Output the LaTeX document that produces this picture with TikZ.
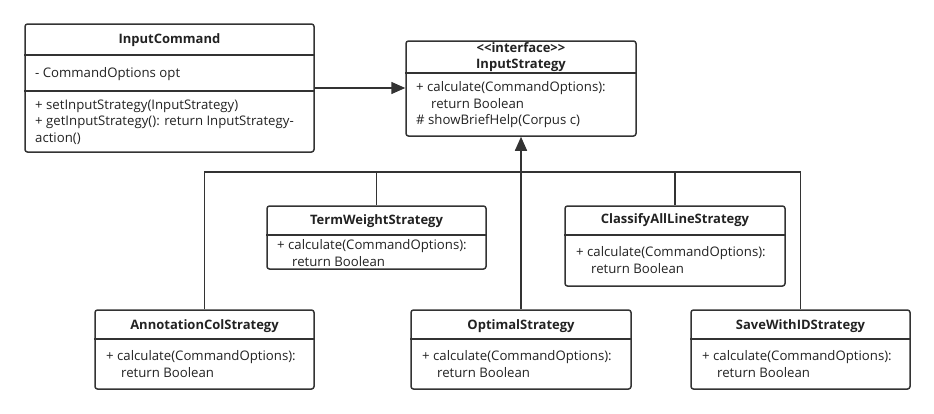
\documentclass[tikz,border=0pt]{standalone}
\usepackage{fontspec}
\setmainfont{Open Sans}
\usetikzlibrary{arrows.meta}
\definecolor{linegray}{HTML}{333333}
\definecolor{inkgray}{HTML}{222222}

\begin{document}
\begin{tikzpicture}
      [
        x=1pt, y=-1pt,
        class/.style={draw=linegray, line width=1.5pt, rounded corners=2.5pt, inner sep=0pt},
        title/.style={font=\fontsize{13}{16}\selectfont\bfseries, text=inkgray, inner sep=0pt, align=center},
        member/.style={font=\fontsize{13.2}{16.5}\selectfont, text=inkgray, inner sep=0pt, align=left, anchor=west},
        sep/.style={draw=linegray, line width=1.5pt},
        link/.style={draw=linegray, line width=1.5pt},
        >={Triangle[length=14pt,width=12pt]}
      ]
      \useasboundingbox (0,0) rectangle (934,413);
      % context class
      \node [class, minimum width=289, minimum height=128] (cmd) at (169.5,88) {};
      \draw [sep] (cmd.west |- 0,55) -- (cmd.east |- 0,55);
      \draw [sep] (cmd.west |- 0,91) -- (cmd.east |- 0,91);
      \node [title] (cmdname) at (cmd.north |- 0,40) {InputCommand};
      \node [member] (cmdattr) at (35,74) {- CommandOptions opt};
      \node [member] (cmdops) at (35,122) {+ setInputStrategy(InputStrategy)\\+ getInputStrategy(): return InputStrategy-\\action()};
      % interface
      \node [class, minimum width=230, minimum height=95] (strat) at (521,88.5) {};
      \draw [sep] (strat.west |- 0,73) -- (strat.east |- 0,73);
      \node [title] (stratname) at (strat.north |- 0,57) {{<}{<}interface{>}{>}\\InputStrategy};
      \node [member] (stratops) at (416,105) {+ calculate(CommandOptions):\\\hspace*{15pt}return Boolean\\\# showBriefHelp(Corpus c)};
      % upper strategies
      \node [class, minimum width=219, minimum height=63] (term) at (376.5,237.5) {};
      \draw [sep] (term.west |- 0,235) -- (term.east |- 0,235);
      \node [title] (termname) at (term.north |- 0,221) {TermWeightStrategy};
      \node [member] (termops) at (277,253) {+ calculate(CommandOptions):\\\hspace*{15pt}return Boolean};
      \node [class, minimum width=220, minimum height=80] (cls) at (675,246) {};
      \draw [sep] (cls.west |- 0,235) -- (cls.east |- 0,235);
      \node [title] (clsname) at (cls.north |- 0,220) {ClassifyAllLineStrategy};
      \node [member] (clsops) at (576,260) {+ calculate(CommandOptions):\\\hspace*{15pt}return Boolean};
      % lower strategies
      \node [class, minimum width=219, minimum height=79] (ann) at (204.5,349.5) {};
      \draw [sep] (ann.west |- 0,339) -- (ann.east |- 0,339);
      \node [title] (annname) at (ann.north |- 0,326) {AnnotationColStrategy};
      \node [member] (annops) at (106,364) {+ calculate(CommandOptions):\\\hspace*{15pt}return Boolean};
      \node [class, minimum width=220, minimum height=79] (opt) at (521,349.5) {};
      \draw [sep] (opt.west |- 0,339) -- (opt.east |- 0,339);
      \node [title] (optname) at (opt.north |- 0,326) {OptimalStrategy};
      \node [member] (optops) at (422,364) {+ calculate(CommandOptions):\\\hspace*{15pt}return Boolean};
      \node [class, minimum width=219, minimum height=79] (save) at (800.5,349.5) {};
      \draw [sep] (save.west |- 0,339) -- (save.east |- 0,339);
      \node [title] (savename) at (save.north |- 0,326) {SaveWithIDStrategy};
      \node [member] (saveops) at (702,364) {+ calculate(CommandOptions):\\\hspace*{15pt}return Boolean};
      % connectors
      \coordinate (bus) at (521,172);
      \draw [link,->] (cmd.east) -- (strat.west |- cmd.east);
      \draw [link,->] (opt.north) -- (strat.south);
      \draw [link] (ann.north) |- (bus) -| (save.north);
      \draw [link] (term.north) -- (term.north |- bus);
      \draw [link] (cls.north) -- (cls.north |- bus);
\end{tikzpicture}
\end{document}
